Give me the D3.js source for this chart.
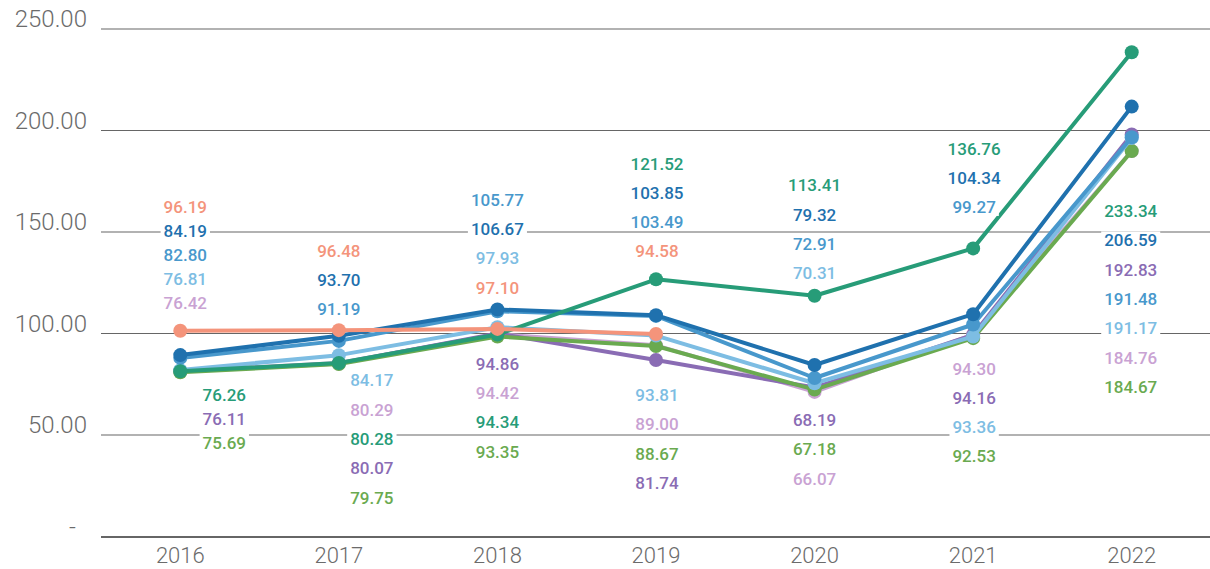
<!DOCTYPE html>
<html>
<head>
<meta charset="utf-8">
<script src="https://cdn.jsdelivr.net/npm/d3@7"></script>
<style>
  html, body { margin: 0; padding: 0; background: #fff; }
  svg { display: block; }
</style>
</head>
<body>
<svg id="chart" width="1210" height="569"></svg>
<script>
// ---------- data ----------
const years = ["2016", "2017", "2018", "2019", "2020", "2021", "2022"];
const yTicks = [0, 50, 100, 150, 200, 250];

const seriesTeal      = [76.26, 80.28, 94.34, 121.52, 113.41, 136.76, 233.34];
const seriesDarkBlue  = [84.19, 93.70, 106.67, 103.85, 79.32, 104.34, 206.59];
const seriesMidBlue   = [82.80, 91.19, 105.77, 103.49, 72.91, 99.27, 191.48];
const seriesLightBlue = [76.81, 84.17, 97.93, 93.81, 70.31, 93.36, 191.17];
const seriesPink      = [76.42, 80.29, 94.42, 89.00, 66.07, 94.30, 184.76];
const seriesPurple    = [76.11, 80.07, 94.86, 81.74, 68.19, 94.16, 192.83];
const seriesGreen     = [75.69, 79.75, 93.35, 88.67, 67.18, 92.53, 184.67];
const seriesSalmon    = [96.19, 96.48, 97.10, 94.58];

// ---------- styling / layout ----------
const series = [
  { key: "pink",      values: seriesPink,      color: "#c9a2d3" },
  { key: "purple",    values: seriesPurple,    color: "#8a6cb4" },
  { key: "green",     values: seriesGreen,     color: "#6aaa50" },
  { key: "lightblue", values: seriesLightBlue, color: "#7dbde3" },
  { key: "midblue",   values: seriesMidBlue,   color: "#4898cc" },
  { key: "darkblue",  values: seriesDarkBlue,  color: "#1f71ae" },
  { key: "teal",      values: seriesTeal,      color: "#279c78" },
  { key: "salmon",    values: seriesSalmon,    color: "#f4947b" }
];
const byKey = Object.fromEntries(series.map(s => [s.key, s]));

// label stacks: order of series keys, centre of first line, line step, x offset from category centre
const labelStacks = [
  { year: 0, keys: ["salmon","darkblue","midblue","lightblue","pink"], y0: 207, step: 24, dx: 5 },
  { year: 0, keys: ["teal","purple","green"], y0: 394.5, step: 24, dx: 44 },
  { year: 1, keys: ["salmon","darkblue","midblue"], y0: 251, step: 28.7, dx: 0 },
  { year: 1, keys: ["lightblue","pink","teal","purple","green"], y0: 380, step: 29.4, dx: 33 },
  { year: 2, keys: ["midblue","darkblue","lightblue","salmon"], y0: 199.5, step: 29.4, dx: 0 },
  { year: 2, keys: ["purple","pink","teal","green"], y0: 363.5, step: 29.4, dx: 0 },
  { year: 3, keys: ["teal","darkblue","midblue","salmon"], y0: 163.5, step: 29.1, dx: 1 },
  { year: 3, keys: ["lightblue","pink","green","purple"], y0: 395, step: 29.2, dx: 1 },
  { year: 4, keys: ["teal","darkblue","midblue","lightblue"], y0: 185, step: 29.4, dx: 0 },
  { year: 4, keys: ["purple","green","pink"], y0: 420, step: 29.2, dx: 0 },
  { year: 5, keys: ["teal","darkblue","midblue"], y0: 149, step: 28.9, dx: 1 },
  { year: 5, keys: ["pink","purple","lightblue","green"], y0: 368.5, step: 29.2, dx: 1 },
  { year: 6, keys: ["teal","darkblue","purple","midblue","lightblue","pink","green"], y0: 211, step: 29.3, dx: -1 }
];

const svg = d3.select("#chart");
const left = 101, right = 1211;
const x = d3.scaleBand().domain(years).range([left, right]);
const y = d3.scaleLinear().domain([0, 250]).range([526, 18.5]);
const gridShift = 10.5;   // grid lines sit slightly below their values in the reference
const cx = i => x(years[i]) + x.bandwidth() / 2;

// grid lines
svg.append("g").selectAll("line")
  .data(yTicks.filter(d => d > 0))
  .join("line")
  .attr("x1", left).attr("x2", right)
  .attr("y1", d => y(d) + gridShift).attr("y2", d => y(d) + gridShift)
  .attr("stroke", "#666").attr("stroke-width", 1.1);

// baseline
svg.append("line")
  .attr("x1", left).attr("x2", right)
  .attr("y1", y(0) + gridShift + 0.5).attr("y2", y(0) + gridShift + 0.5)
  .attr("stroke", "#333").attr("stroke-width", 1.6);

// y tick labels
svg.append("g").selectAll("text")
  .data(yTicks)
  .join("text")
  .attr("x", d => d === 0 ? 76 : 87).attr("y", d => y(d))
  .attr("dy", "0.36em")
  .attr("text-anchor", "end")
  .attr("font-family", "Roboto, sans-serif")
  .attr("font-weight", 300)
  .attr("font-size", 24)
  .attr("fill", "#6b6b6b")
  .text(d => d === 0 ? "-" : d3.format(".2f")(d));

// x axis labels
svg.append("g").selectAll("text")
  .data(years)
  .join("text")
  .attr("x", d => x(d) + x.bandwidth() / 2).attr("y", 563)
  .attr("text-anchor", "middle")
  .attr("font-family", "Roboto, sans-serif")
  .attr("font-weight", 300)
  .attr("font-size", 22)
  .attr("fill", "#6b6b6b")
  .text(d => d);

// lines
const line = d3.line().x((d, i) => cx(i)).y(d => y(d));
const gSeries = svg.append("g");
series.forEach(s => {
  const g = gSeries.append("g");
  g.append("path")
    .attr("d", line(s.values))
    .attr("fill", "none")
    .attr("stroke", s.color)
    .attr("stroke-width", 4)
    .attr("stroke-linejoin", "round");
  g.selectAll("circle")
    .data(s.values)
    .join("circle")
    .attr("cx", (d, i) => cx(i))
    .attr("cy", d => y(d))
    .attr("r", 7)
    .attr("fill", s.color);
});

// value labels
const gLabels = svg.append("g");
labelStacks.forEach(st => {
  st.keys.forEach((k, j) => {
    const s = byKey[k];
    const val = s.values[st.year];
    const gx = cx(st.year) + st.dx;
    const gy = st.y0 + j * st.step;
    const g = gLabels.append("g");
    const rect = g.append("rect").attr("fill", "#fff");
    const t = g.append("text")
      .attr("x", gx).attr("y", gy)
      .attr("dy", "0.36em")
      .attr("text-anchor", "middle")
      .attr("font-family", "Roboto, sans-serif")
      .attr("font-weight", 500)
      .attr("font-size", 17)
      .attr("fill", s.color)
      .text(d3.format(".2f")(val));
    const bb = t.node().getBBox();
    rect.attr("x", bb.x - 3).attr("y", bb.y + 1).attr("width", bb.width + 6).attr("height", bb.height - 2);
  });
});
</script>
</body>
</html>
